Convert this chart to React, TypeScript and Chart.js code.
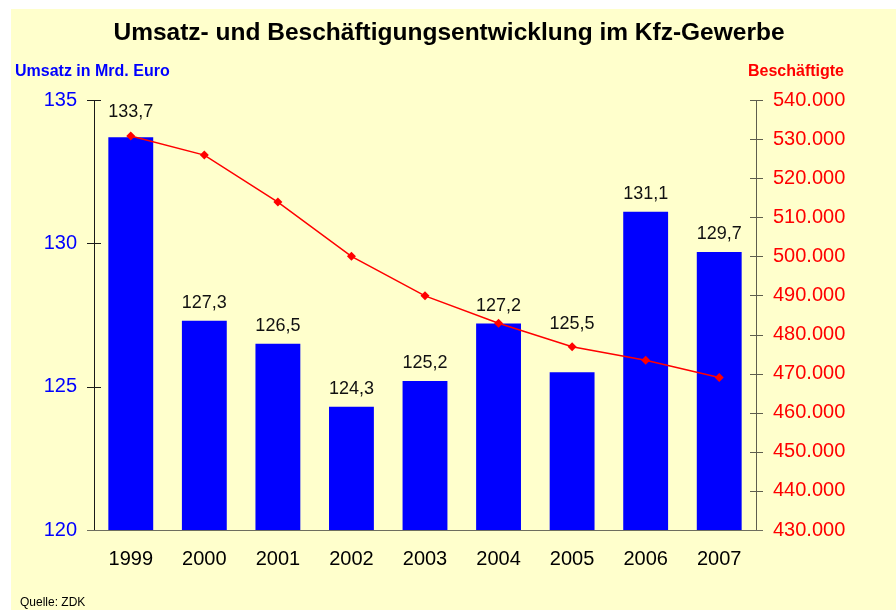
import React, { useEffect, useRef } from "react";
import { Chart, registerables } from "chart.js";

Chart.register(...registerables);

const years = ["1999", "2000", "2001", "2002", "2003", "2004", "2005", "2006", "2007"];
const umsatz = [133.7, 127.3, 126.5, 124.3, 125.2, 127.2, 125.5, 131.1, 129.7];
const beschaeftigte = [530800, 525900, 513900, 500000, 489900, 482900, 476900, 473400, 469000];
const umsatzRange = [120, 135];
const beschRange = [430000, 540000];
const chartTitle = "Umsatz- und Beschäftigungsentwicklung im Kfz-Gewerbe";
const leftTitle = "Umsatz in Mrd. Euro";
const rightTitle = "Beschäftigte";
const sourceText = "Quelle: ZDK";

const FONT = "'Liberation Sans', Arial, Helvetica, sans-serif";

const fmtThousands = (v: number) => String(Math.round(v)).replace(/\B(?=(\d{3})+(?!\d))/g, ".");
const fmtDecimal = (v: number) => v.toFixed(1).replace(".", ",");

const decorPlugin = {
  id: "decor",
  beforeDraw(chart: any) {
    const { ctx, width, height } = chart;
    ctx.save();
    ctx.fillStyle = "#ffffff";
    ctx.fillRect(0, 0, width, height);
    ctx.fillStyle = "#FFFFCC";
    ctx.fillRect(11, 9, width - 11, height - 9);
    ctx.restore();
  },
  afterDatasetsDraw(chart: any, _args: any, opts: any) {
    const { ctx, chartArea } = chart;
    const xs = chart.scales.x;
    const yl = chart.scales.y;
    const yr = chart.scales.y1;
    ctx.save();
    const meta = chart.getDatasetMeta(0);
    ctx.font = `18px ${FONT}`;
    ctx.fillStyle = "#111111";
    ctx.textAlign = "center";
    ctx.textBaseline = "middle";
    meta.data.forEach((bar: any, i: number) => {
      const lift = 17.5 + ((opts.extraLift && opts.extraLift[i]) || 0);
      ctx.fillText(fmtDecimal(umsatz[i]), bar.x, bar.y - lift);
    });
    ctx.lineWidth = 1;
    ctx.strokeStyle = "#1a1a1a";
    ctx.beginPath();
    ctx.moveTo(chartArea.left + 0.5, chartArea.top);
    ctx.lineTo(chartArea.left + 0.5, chartArea.bottom);
    yl.ticks.forEach((t: any) => {
      const py = Math.round(yl.getPixelForValue(t.value)) + 0.5;
      ctx.moveTo(chartArea.left - 7, py);
      ctx.lineTo(chartArea.left + 7, py);
    });
    ctx.stroke();
    ctx.strokeStyle = "#5E5E4E";
    ctx.beginPath();
    ctx.moveTo(chartArea.right + 0.5, chartArea.top);
    ctx.lineTo(chartArea.right + 0.5, chartArea.bottom);
    yr.ticks.forEach((t: any) => {
      const py = Math.round(yr.getPixelForValue(t.value)) + 0.5;
      ctx.moveTo(chartArea.right - 6, py);
      ctx.lineTo(chartArea.right + 7, py);
    });
    ctx.stroke();
    ctx.strokeStyle = "#6E6E5E";
    ctx.beginPath();
    ctx.moveTo(xs.left - 7, chartArea.bottom + 0.5);
    ctx.lineTo(xs.right + 7, chartArea.bottom + 0.5);
    ctx.stroke();
    ctx.restore();
  },
  afterDraw(chart: any) {
    const { ctx } = chart;
    ctx.save();
    ctx.textBaseline = "middle";
    ctx.fillStyle = "#000000";
    ctx.font = `bold 24.5px ${FONT}`;
    ctx.textAlign = "center";
    ctx.fillText(chartTitle, 449, 33);
    ctx.font = `bold 16px ${FONT}`;
    ctx.textAlign = "left";
    ctx.fillStyle = "#0000FF";
    ctx.fillText(leftTitle, 15, 72);
    ctx.textAlign = "right";
    ctx.fillStyle = "#FF0000";
    ctx.fillText(rightTitle, 844, 72);
    ctx.textAlign = "left";
    ctx.fillStyle = "#000000";
    ctx.font = `12px ${FONT}`;
    ctx.fillText(sourceText, 20, 603);
    ctx.restore();
  },
};

export default function App() {
  const canvasRef = useRef<HTMLCanvasElement | null>(null);

  useEffect(() => {
    if (!canvasRef.current) return;
    const chart = new Chart(canvasRef.current, {
      type: "bar",
      data: {
        labels: years,
        datasets: [
          {
            type: "bar",
            label: "Umsatz",
            data: umsatz,
            backgroundColor: "#0000FF",
            borderWidth: 0,
            yAxisID: "y",
            barPercentage: 0.61,
            categoryPercentage: 1,
            order: 2,
          },
          {
            type: "line",
            label: "Beschäftigte",
            data: beschaeftigte,
            borderColor: "#FF0000",
            backgroundColor: "#FF0000",
            borderWidth: 1.5,
            pointStyle: "rectRot",
            pointRadius: 4.5,
            pointBorderWidth: 0,
            tension: 0,
            yAxisID: "y1",
            order: 1,
          } as any,
        ],
      },
      options: {
        responsive: false,
        animation: false,
        devicePixelRatio: 1,
        layout: { padding: { top: 100, left: 0, right: 0, bottom: 0 } },
        plugins: {
          legend: { display: false },
          tooltip: { enabled: false },
          title: { display: false },
          decor: { extraLift: { 0: 7.5, 6: 30.5 } },
        } as any,
        scales: {
          x: {
            offset: true,
            grid: { display: false },
            border: { display: false },
            ticks: { color: "#000000", font: { family: FONT, size: 20 }, padding: 9, maxRotation: 0 },
            afterFit: (s: any) => {
              s.height = 80;
            },
          },
          y: {
            position: "left",
            min: umsatzRange[0],
            max: umsatzRange[1],
            grid: { display: false },
            border: { display: false },
            ticks: { stepSize: 5, color: "#0000FF", font: { family: FONT, size: 20 }, padding: 9 },
            afterFit: (s: any) => {
              s.width = 94;
            },
          },
          y1: {
            position: "right",
            min: beschRange[0],
            max: beschRange[1],
            grid: { display: false },
            border: { display: false },
            ticks: {
              stepSize: 10000,
              color: "#FF0000",
              font: { family: FONT, size: 20 },
              padding: 9,
              callback: (v: any) => fmtThousands(Number(v)),
            },
            afterFit: (s: any) => {
              s.width = 140;
            },
          },
        },
      } as any,
      plugins: [decorPlugin],
    });
    return () => chart.destroy();
  }, []);

  return (
    <div style={{ position: "absolute", left: 0, top: 0, width: 896, height: 610 }}>
      <canvas ref={canvasRef} width={896} height={610} style={{ width: 896, height: 610, display: "block" }} />
    </div>
  );
}
